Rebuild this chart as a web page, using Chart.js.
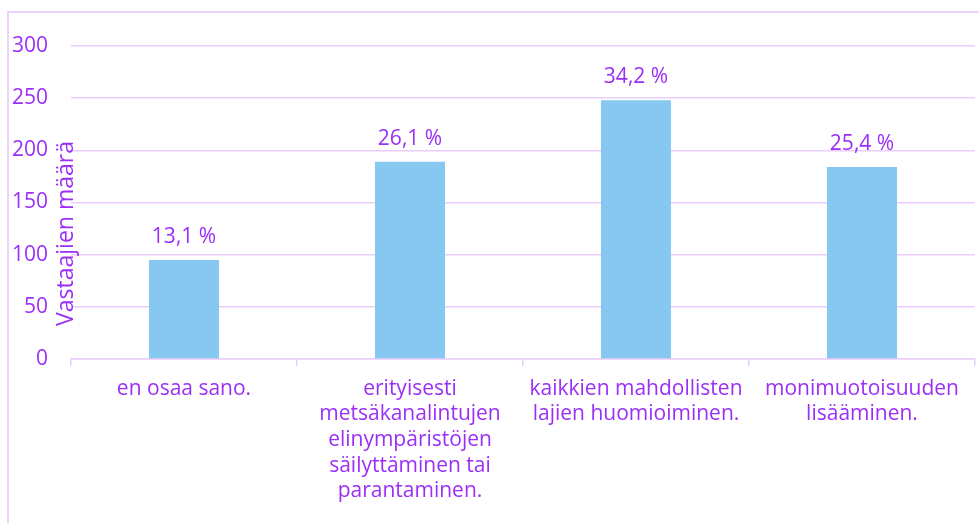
<!DOCTYPE html>
<html><head><meta charset="utf-8">
<script src="https://cdn.jsdelivr.net/npm/chart.js@4"></script>
<style>
html,body{margin:0;padding:0;background:#fff;overflow:hidden}
#frame{position:absolute;left:7px;top:11px;width:1200px;height:800px;border:2px solid #ebd3fb;box-sizing:border-box}
#wrap{position:absolute;left:0;top:0;width:979px;height:523px}
</style></head><body>
<div id="frame"></div>
<div id="wrap"><canvas id="c"></canvas></div>
<script>
const categories = [
  "en osaa sano.",
  ["erityisesti", "metsäkanalintujen", "elinympäristöjen", "säilyttäminen tai", "parantaminen."],
  ["kaikkien mahdollisten", "lajien huomioiminen."],
  ["monimuotoisuuden", "lisääminen."]
];
const counts = [95, 189, 248, 184];
const percentLabels = ["13,1 %", "26,1 %", "34,2 %", "25,4 %"];
const yAxisTitle = "Vastaajien määrä";
const yMin = 0, yMax = 300, yStep = 50;

const PURPLE = "#9b2ff7";
const GRID = "#e9cdfb";
const FONT = "'Open Sans', sans-serif";
const FS = 21;
const TITLE_FS = 23;

const labelPlugin = {
  id: "labels",
  afterDatasetsDraw(chart) {
    const ctx = chart.ctx;
    const meta = chart.getDatasetMeta(0);
    ctx.save();
    ctx.fillStyle = PURPLE;
    ctx.font = FS + "px " + FONT;
    ctx.textAlign = "center";
    ctx.textBaseline = "alphabetic";
    meta.data.forEach((bar, i) => {
      ctx.fillText(percentLabels[i], bar.x, bar.y - 17);
    });
    ctx.restore();
  },
  afterDraw(chart) {
    const ctx = chart.ctx;
    const ys = chart.scales.y;
    ctx.save();
    ctx.fillStyle = PURPLE;
    ctx.font = TITLE_FS + "px " + FONT;
    ctx.textAlign = "center";
    ctx.textBaseline = "alphabetic";
    ctx.translate(ys.right + 2, (ys.top + ys.bottom) / 2 + 31);
    ctx.rotate(-Math.PI / 2);
    ctx.fillText(yAxisTitle, 0, 0);
    ctx.restore();
  }
};

new Chart(document.getElementById("c"), {
  type: "bar",
  data: {
    labels: categories,
    datasets: [{
      data: counts,
      backgroundColor: "#86c8f0",
      borderWidth: 0,
      barPercentage: 0.31,
      categoryPercentage: 1.0
    }]
  },
  options: {
    responsive: true,
    maintainAspectRatio: false,
    animation: false,
    layout: { padding: { left: 0, top: 46, right: 4, bottom: 0 } },
    plugins: { legend: { display: false }, tooltip: { enabled: false } },
    scales: {
      y: {
        min: yMin, max: yMax,
        afterFit(s) { s.width = 71; },
        border: { display: false },
        grid: { color: GRID, lineWidth: 1.5, drawTicks: false },
        ticks: { stepSize: yStep, color: PURPLE, padding: 23, font: { family: FONT, size: FS } }
      },
      x: {
        afterFit(s) { s.height = 164; },
        border: { display: true, color: GRID, width: 1.5 },
        grid: { color: GRID, lineWidth: 1.5, drawOnChartArea: false, drawTicks: true, tickLength: 7, offset: true },
        ticks: { color: PURPLE, padding: 10, maxRotation: 0, autoSkip: false, font: { family: FONT, size: FS, lineHeight: 1.22 } }
      }
    }
  },
  plugins: [labelPlugin]
});
</script>
</body></html>
